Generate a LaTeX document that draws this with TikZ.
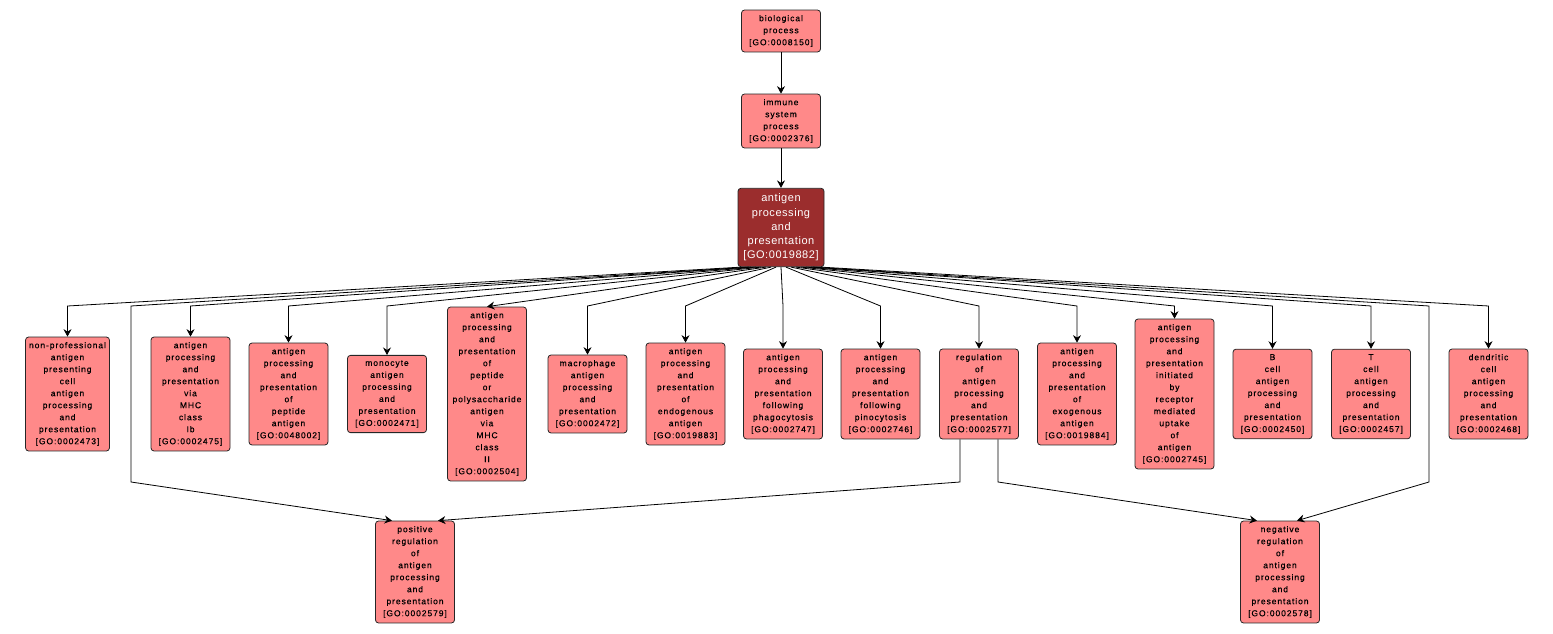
\documentclass[tikz,border=0pt]{standalone}
\usepackage{fontspec}
\usetikzlibrary{arrows.meta,positioning}
\newfontfamily\gofont[LetterSpace=11,FakeBold=0.4]{Liberation Sans}
\newfontfamily\appfont[LetterSpace=5]{Liberation Sans}
\definecolor{goRed}{RGB}{255,137,137}
\definecolor{goDark}{RGB}{155,45,45}

\begin{document}
\begin{tikzpicture}[x=1pt,y=-1pt,>={Stealth[length=7.5pt,width=8pt,inset=2.5pt]},
  gobox/.style={draw=black!85,fill=goRed,rounded corners=3pt,align=center,
    inner xsep=3.5pt,inner ysep=5pt,minimum width=79pt,line width=0.8pt,
    font=\gofont\fontsize{8.5}{12}\selectfont},
  appbox/.style={gobox,fill=goDark,text=white,minimum width=86pt,inner ysep=5.5pt,
    font=\appfont\fontsize{11}{14.3}\selectfont},
  edge/.style={->,line width=0.8pt}]
\useasboundingbox (0,0) rectangle (1553,634);
% top of the tree
\node[gobox] (bp) at (781,31) {biological\\process\\{[GO:0008150]}};
\node[gobox] (isp) at (781,121) {immune\\system\\process\\{[GO:0002376]}};
\node[appbox] (app) at (781,227.5) {antigen\\processing\\and\\presentation\\{[GO:0019882]}};
\draw[edge] (bp) -- (isp);
\draw[edge] (isp) -- (app);
% children row
\node[gobox] (npa) at (67.5,394) {non-professional\\antigen\\presenting\\cell\\antigen\\processing\\and\\presentation\\{[GO:0002473]}};
\node[gobox] (mhcIb) at (190.5,394) {antigen\\processing\\and\\presentation\\via\\MHC\\class\\Ib\\{[GO:0002475]}};
\node[gobox] (pep) at (288.5,394) {antigen\\processing\\and\\presentation\\of\\peptide\\antigen\\{[GO:0048002]}};
\node[gobox] (mono) at (387,394) {monocyte\\antigen\\processing\\and\\presentation\\{[GO:0002471]}};
\node[gobox] (mhcII) at (487,394) {antigen\\processing\\and\\presentation\\of\\peptide\\or\\polysaccharide\\antigen\\via\\MHC\\class\\II\\{[GO:0002504]}};
\node[gobox] (macro) at (587.5,394) {macrophage\\antigen\\processing\\and\\presentation\\{[GO:0002472]}};
\node[gobox] (endo) at (685.5,394) {antigen\\processing\\and\\presentation\\of\\endogenous\\antigen\\{[GO:0019883]}};
\node[gobox] (phago) at (783,394) {antigen\\processing\\and\\presentation\\following\\phagocytosis\\{[GO:0002747]}};
\node[gobox] (pino) at (880.5,394) {antigen\\processing\\and\\presentation\\following\\pinocytosis\\{[GO:0002746]}};
\node[gobox] (reg) at (979,394) {regulation\\of\\antigen\\processing\\and\\presentation\\{[GO:0002577]}};
\node[gobox] (exo) at (1077,394) {antigen\\processing\\and\\presentation\\of\\exogenous\\antigen\\{[GO:0019884]}};
\node[gobox] (recep) at (1174.5,394) {antigen\\processing\\and\\presentation\\initiated\\by\\receptor\\mediated\\uptake\\of\\antigen\\{[GO:0002745]}};
\node[gobox] (bcell) at (1272.5,394) {B\\cell\\antigen\\processing\\and\\presentation\\{[GO:0002450]}};
\node[gobox] (tcell) at (1371,394) {T\\cell\\antigen\\processing\\and\\presentation\\{[GO:0002457]}};
\node[gobox] (dend) at (1488.5,394) {dendritic\\cell\\antigen\\processing\\and\\presentation\\{[GO:0002468]}};
% bottom row
\node[gobox] (pos) at (415,572) {positive\\regulation\\of\\antigen\\processing\\and\\presentation\\{[GO:0002579]}};
\node[gobox] (neg) at (1280,572) {negative\\regulation\\of\\antigen\\processing\\and\\presentation\\{[GO:0002578]}};
% bend levels
\coordinate (fan) at (0,306);
\coordinate (low) at (0,482);
\coordinate (lpass) at (131,306);
\coordinate (rpass) at (1429,306);
% fan out of the dark node
\draw[edge] ([xshift=-40pt]app.south) -- (npa |- fan) -- (npa.north);
\draw[edge] ([xshift=-32pt]app.south) -- (lpass) -- (lpass |- low) -- ([xshift=-23pt]pos.north);
\draw[edge] ([xshift=-30pt]app.south) -- (mhcIb |- fan) -- (mhcIb.north);
\draw[edge] ([xshift=-25pt]app.south) -- (pep |- fan) -- (pep.north);
\draw[edge] ([xshift=-20pt]app.south) -- (mono |- fan) -- (mono.north);
\draw[edge] ([xshift=-15pt]app.south) -- (mhcII.north);
\draw[edge] ([xshift=-10pt]app.south) -- (macro |- fan) -- (macro.north);
\draw[edge] ([xshift=-5pt]app.south) -- (endo |- fan) -- (endo.north);
\draw[edge] (app.south) -- (phago |- fan) -- (phago.north);
\draw[edge] ([xshift=5pt]app.south) -- (pino |- fan) -- (pino.north);
\draw[edge] ([xshift=10pt]app.south) -- (reg |- fan) -- (reg.north);
\draw[edge] ([xshift=15pt]app.south) -- (exo |- fan) -- (exo.north);
\draw[edge] ([xshift=20pt]app.south) -- (recep |- fan) -- (recep.north);
\draw[edge] ([xshift=25pt]app.south) -- (bcell |- fan) -- (bcell.north);
\draw[edge] ([xshift=30pt]app.south) -- (tcell |- fan) -- (tcell.north);
\draw[edge] ([xshift=32pt]app.south) -- (rpass) -- (rpass |- low) -- ([xshift=17pt]neg.north);
\draw[edge] ([xshift=40pt]app.south) -- (dend |- fan) -- (dend.north);
% regulation splits
\coordinate (regL) at ([xshift=-19pt]reg.south);
\coordinate (regR) at ([xshift=19pt]reg.south);
\draw[edge] (regL) -- (regL |- low) -- ([xshift=23pt]pos.north);
\draw[edge] (regR) -- (regR |- low) -- ([xshift=-23pt]neg.north);
\end{tikzpicture}
\end{document}
